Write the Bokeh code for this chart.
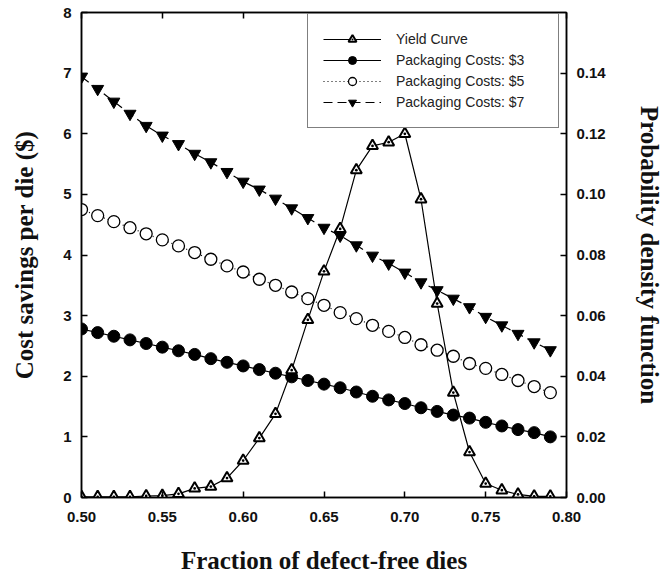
from bokeh.plotting import figure
from bokeh.models import (Range1d, LinearAxis, FixedTicker, Legend, LegendItem,
                          NumeralTickFormatter, CustomJSTickFormatter)
from bokeh.embed import file_html
from bokeh.resources import INLINE

# ---------------- data ----------------
fraction = [0.50, 0.51, 0.52, 0.53, 0.54, 0.55, 0.56, 0.57, 0.58, 0.59,
            0.60, 0.61, 0.62, 0.63, 0.64, 0.65, 0.66, 0.67, 0.68, 0.69,
            0.70, 0.71, 0.72, 0.73, 0.74, 0.75, 0.76, 0.77, 0.78, 0.79]

yield_pdf = [0.0002, 0.0002, 0.0002, 0.0002, 0.0005, 0.0006, 0.0012, 0.0030, 0.0036, 0.0064,
             0.0122, 0.0196, 0.0276, 0.0420, 0.0586, 0.0746, 0.0886, 0.1080, 0.1160, 0.1172,
             0.1200, 0.0984, 0.0640, 0.0346, 0.0150, 0.0046, 0.0024, 0.0010, 0.0004, 0.0004]

cost_3 = [2.78, 2.72, 2.66, 2.60, 2.54, 2.48, 2.42, 2.36, 2.29, 2.23,
          2.17, 2.11, 2.05, 1.99, 1.93, 1.87, 1.81, 1.74, 1.67, 1.61,
          1.55, 1.48, 1.42, 1.36, 1.31, 1.24, 1.18, 1.12, 1.07, 1.00]

cost_5 = [4.75, 4.65, 4.55, 4.45, 4.35, 4.25, 4.15, 4.04, 3.93, 3.82,
          3.72, 3.60, 3.50, 3.39, 3.28, 3.17, 3.05, 2.95, 2.84, 2.74,
          2.64, 2.52, 2.43, 2.33, 2.21, 2.13, 2.03, 1.93, 1.83, 1.73]

cost_7 = [6.94, 6.74, 6.53, 6.33, 6.13, 5.97, 5.83, 5.67, 5.53, 5.37,
          5.21, 5.08, 4.93, 4.77, 4.61, 4.45, 4.32, 4.16, 3.99, 3.86,
          3.71, 3.55, 3.42, 3.28, 3.14, 2.98, 2.84, 2.70, 2.56, 2.43]

x_ticks = [0.50, 0.55, 0.60, 0.65, 0.70, 0.75, 0.80]
left_ticks = [0, 1, 2, 3, 4, 5, 6, 7, 8]
right_ticks = [0.00, 0.02, 0.04, 0.06, 0.08, 0.10, 0.12, 0.14]

labels = ["Yield Curve", "Packaging Costs: $3", "Packaging Costs: $5", "Packaging Costs: $7"]

TICK_FONT = "Liberation Sans"
TITLE_FONT = "Liberation Serif"

p = figure(width=666, height=576, output_backend="svg", toolbar_location=None,
           x_range=Range1d(0.50, 0.80), y_range=Range1d(0, 8),
           min_border_left=81, min_border_right=100, min_border_top=12,
           min_border_bottom=79)
p.extra_y_ranges = {"pdf": Range1d(0, 0.16)}
p.grid.visible = False
p.outline_line_color = "black"
p.outline_line_width = 1.5
p.background_fill_color = "white"
p.border_fill_color = "white"


def style_axis(ax):
    ax.major_tick_in = 6
    ax.major_tick_out = 0
    ax.minor_tick_line_color = None
    ax.axis_line_color = "black"
    ax.axis_line_width = 1.5
    ax.major_tick_line_width = 1.5
    ax.major_label_text_font = TICK_FONT
    ax.major_label_text_font_style = "bold"
    ax.major_label_text_font_size = "15px"
    ax.major_label_text_color = "#111111"
    ax.axis_label_text_font = TITLE_FONT
    ax.axis_label_text_font_style = "bold"
    ax.axis_label_text_font_size = "25px"
    ax.axis_label_text_color = "#111111"


xa = p.xaxis[0]
style_axis(xa)
xa.ticker = FixedTicker(ticks=x_ticks)
xa.formatter = NumeralTickFormatter(format="0.00")
xa.axis_label = "Fraction of defect-free dies"
xa.major_label_standoff = 14
xa.axis_label_standoff = 22

ya = p.yaxis[0]
style_axis(ya)
ya.ticker = FixedTicker(ticks=left_ticks)
ya.axis_label = "Cost savings per die ($)"
ya.major_label_standoff = 10
ya.axis_label_standoff = 22

ra = LinearAxis(y_range_name="pdf", axis_label="Probability density function")
style_axis(ra)
ra.ticker = FixedTicker(ticks=right_ticks)
ra.formatter = NumeralTickFormatter(format="0.00")
ra.major_label_standoff = 10
ra.axis_label_standoff = 27
p.add_layout(ra, "right")

ta = LinearAxis()
style_axis(ta)
ta.ticker = FixedTicker(ticks=x_ticks)
ta.formatter = CustomJSTickFormatter(code="return ''")
ta.major_label_standoff = 0
p.add_layout(ta, "above")

# cost curves
l3 = p.line(fraction, cost_3, line_color="black", line_width=1.2)
s3 = p.scatter(fraction, cost_3, marker="circle", size=12, fill_color="black",
               line_color="black")

l5 = p.line(fraction, cost_5, line_color="black", line_width=1.2, line_dash="1 3")
s5 = p.scatter(fraction, cost_5, marker="circle", size=12, fill_color="white",
               line_color="black", line_width=1.3)

l7 = p.line(fraction, cost_7, line_color="black", line_width=1.2, line_dash="9 5")
s7 = p.scatter(fraction, cost_7, marker="inverted_triangle", size=12, fill_color="black",
               line_color="black")

# yield curve on right axis
ly = p.line(fraction, yield_pdf, y_range_name="pdf", line_color="black", line_width=1.2)
sy = p.scatter(fraction, yield_pdf, y_range_name="pdf", marker="triangle_dot", size=11,
               fill_color="white", line_color="black", line_width=2)

legend = Legend(items=[
    LegendItem(label=labels[0], renderers=[ly, sy]),
    LegendItem(label=labels[1], renderers=[l3, s3]),
    LegendItem(label=labels[2], renderers=[l5, s5]),
    LegendItem(label=labels[3], renderers=[l7, s7]),
], location=(226, 369))
legend.border_line_color = "black"
legend.border_line_width = 1.2
legend.background_fill_color = "white"
legend.background_fill_alpha = 1.0
legend.label_text_font = TICK_FONT
legend.label_text_font_size = "14px"
legend.label_text_color = "#222222"
legend.glyph_width = 58
legend.glyph_height = 20
legend.label_height = 20
legend.label_width = 147
legend.label_standoff = 15
legend.padding = 15
legend.spacing = 1
legend.margin = 0
p.add_layout(legend, "center")

open("out.html", "w").write(file_html(p, INLINE))
